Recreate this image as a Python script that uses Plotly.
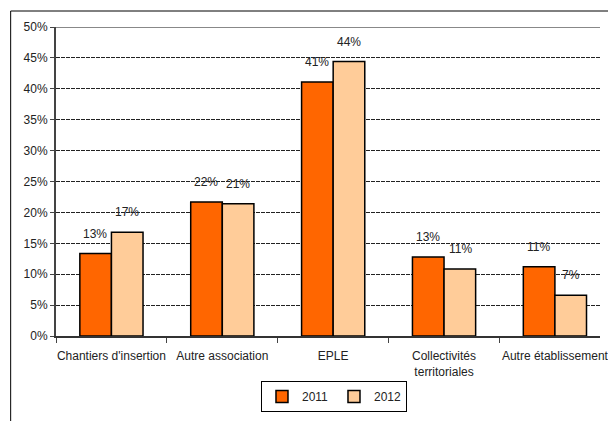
import plotly.graph_objects as go

categories = ["Chantiers d'insertion", "Autre association", "EPLE", "Collectivités territoriales", "Autre établissement"]
tick_labels = ["Chantiers d'insertion", "Autre association", "EPLE", "Collectivités<br>territoriales", "Autre établissement"]
v2011 = [13.35, 21.7, 41.1, 12.8, 11.2]
v2012 = [16.8, 21.4, 44.4, 10.85, 6.6]
y_ticks = [0, 5, 10, 15, 20, 25, 30, 35, 40, 45, 50]

FONT = "Liberation Sans Narrow, Arial Narrow, Liberation Sans, Arial, sans-serif"

fig = go.Figure()
fig.add_trace(go.Bar(name="2011", x=categories, y=v2011,
                     marker=dict(color="#FF6600", line=dict(color="black", width=1.5))))
fig.add_trace(go.Bar(name="2012", x=categories, y=v2012,
                     marker=dict(color="#FFCC99", line=dict(color="black", width=1.5))))

for vals, shift in ((v2011, -16), (v2012, 16)):
    for c, v in zip(categories, vals):
        fig.add_annotation(x=c, y=v, text=f"{round(v)}%", showarrow=False,
                           xshift=shift, yshift=20, yanchor="middle",
                           font=dict(family=FONT, size=12, color="#222"))

# outer chart border
fig.add_shape(type="rect", xref="paper", yref="paper",
              x0=(10 - 56) / 552, x1=1.2, y0=-0.4, y1=(336 - 11) / 309,
              line=dict(color="black", width=1), layer="below")
# grey top edge of plot area
fig.add_shape(type="line", xref="paper", yref="y", x0=0, x1=1, y0=50, y1=50,
              line=dict(color="#888", width=2), layer="above")

fig.update_layout(
    width=608, height=421,
    margin=dict(l=56, r=0, t=27, b=85),
    paper_bgcolor="white", plot_bgcolor="white",
    barmode="group", bargap=0.43, bargroupgap=0,
    font=dict(family=FONT, size=12, color="#222"),
    showlegend=True,
    legend=dict(orientation="h", x=(264 - 56) / 552, y=(336 - 381) / 309,
                xanchor="left", yanchor="top",
                bordercolor="black", borderwidth=1, bgcolor="white",
                font=dict(family=FONT, size=12, color="#222"),
                itemwidth=30, entrywidth=27, traceorder="normal"),
    xaxis=dict(type="category", range=[-0.5, -0.5 + 552 / 112.5],
               tickmode="array", tickvals=categories, ticktext=tick_labels,
               tickangle=0, ticklabelstandoff=8,
               tickson="boundaries", ticks="outside", ticklen=5, tickcolor="#444",
               showline=True, linecolor="#333", linewidth=2,
               showgrid=False, tickfont=dict(family=FONT, size=12, color="#222")),
    yaxis=dict(range=[0, 50], tickvals=y_ticks, ticktext=[f"{t}%" for t in y_ticks],
               ticks="outside", ticklen=4, tickcolor="#444",
               showline=True, linecolor="#444", linewidth=2,
               showgrid=True, gridcolor="#222", gridwidth=1, griddash="4px,1px",
               zeroline=False, tickfont=dict(family=FONT, size=12, color="#222")),
)

fig.write_html("out.html")
